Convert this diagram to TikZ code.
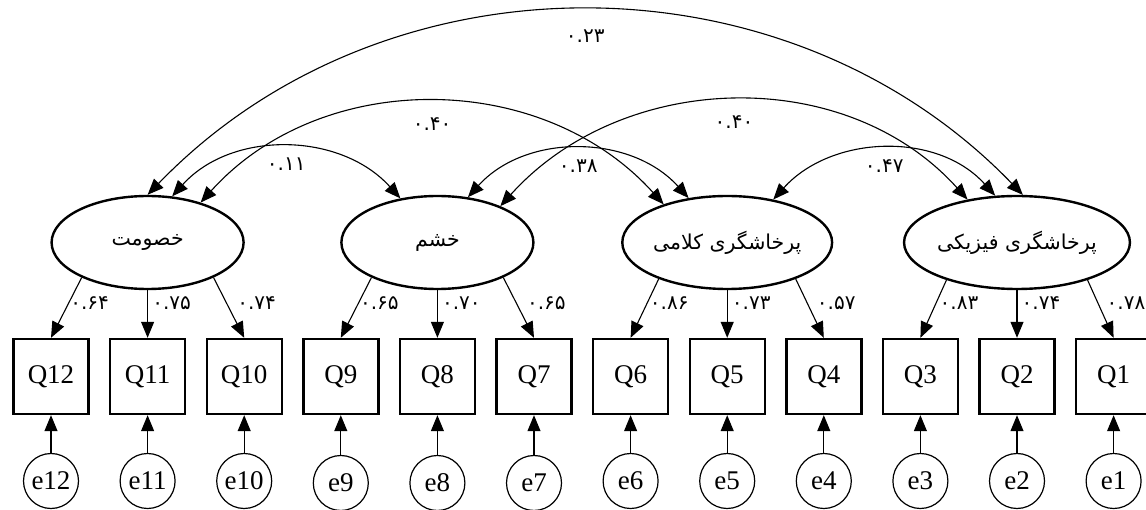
\documentclass[tikz,border=0pt]{standalone}
\usepackage{fontspec}
\setmainfont{Liberation Serif}
\newfontfamily\farsi[Script=Arabic]{DejaVu Sans}
\TeXXeTstate=1
\usetikzlibrary{arrows.meta,shapes.geometric}

\begin{document}
\begin{tikzpicture}[x=1pt,y=-1pt,
  factor/.style={ellipse,draw=black,line width=2.4pt,minimum width=192pt,minimum height=93pt,inner sep=0pt,font=\farsi\fontsize{20.5}{24}\selectfont},
  item/.style={rectangle,draw=black,line width=2.4pt,minimum width=75pt,minimum height=75pt,inner sep=0pt,font=\fontsize{27}{30}\selectfont},
  err/.style={circle,draw=black,line width=1.2pt,minimum size=55pt,inner sep=0pt,font=\fontsize{27}{30}\selectfont},
  load/.style={-{Triangle[length=16pt,width=13pt]},line width=1.1pt},
  corr/.style={{Triangle[length=16pt,width=13pt]}-{Triangle[length=16pt,width=13pt]},line width=1.1pt},
  coef/.style={font=\farsi\fontsize{20}{22}\selectfont,inner sep=1pt}]
\useasboundingbox (0,0) rectangle (1146,510);

\node[factor] (hos) at (147.6,242.5) {\beginR خصومت\endR};
\node[factor] (ang) at (437.4,242.5) {\beginR خشم\endR};
\node[factor] (verb) at (727.2,242.5) {\beginR پرخاشگری کلامی\endR};
\node[factor] (phys) at (1017,242.5) {\beginR پرخاشگری فیزیکی\endR};

\node[item] (q12) at (51,376.5) {Q12};
\node[item] (q11) at (147.6,376.5) {Q11};
\node[item] (q10) at (244.2,376.5) {Q10};
\node[item] (q9) at (340.8,376.5) {Q9};
\node[item] (q8) at (437.4,376.5) {Q8};
\node[item] (q7) at (534,376.5) {Q7};
\node[item] (q6) at (630.6,376.5) {Q6};
\node[item] (q5) at (727.2,376.5) {Q5};
\node[item] (q4) at (823.8,376.5) {Q4};
\node[item] (q3) at (920.4,376.5) {Q3};
\node[item] (q2) at (1017,376.5) {Q2};
\node[item] (q1) at (1113.6,376.5) {Q1};

\node[err] (e12) at (51,481) {e12};
\node[err] (e11) at (147.6,481) {e11};
\node[err] (e10) at (244.2,481) {e10};
\node[err] (e9) at (340.8,483) {e9};
\node[err] (e8) at (437.4,483) {e8};
\node[err] (e7) at (534,483) {e7};
\node[err] (e6) at (630.6,481) {e6};
\node[err] (e5) at (727.2,481) {e5};
\node[err] (e4) at (823.8,481) {e4};
\node[err] (e3) at (920.4,481) {e3};
\node[err] (e2) at (1017,481) {e2};
\node[err] (e1) at (1113.6,481) {e1};

\draw[load] (hos.208) -- (q12.north);
\draw[load] (hos.south) -- (q11.north);
\draw[load] (hos.332) -- (q10.north);
\draw[load] (ang.208) -- (q9.north);
\draw[load] (ang.south) -- (q8.north);
\draw[load] (ang.332) -- (q7.north);
\draw[load] (verb.208) -- (q6.north);
\draw[load] (verb.south) -- (q5.north);
\draw[load] (verb.332) -- (q4.north);
\draw[load] (phys.208) -- (q3.north);
\draw[load] (phys.south) -- (q2.north);
\draw[load] (phys.332) -- (q1.north);

\node[coef] (l12) at (89.6,303) {۰.۶۴};
\node[coef] (l11) at (171.6,303) {۰.۷۵};
\node[coef] (l10) at (256.6,303) {۰.۷۴};
\node[coef] (l9) at (379.4,303) {۰.۶۵};
\node[coef] (l8) at (461.4,303) {۰.۷۰};
\node[coef] (l7) at (546.4,303) {۰.۶۵};
\node[coef] (l6) at (669.2,303) {۰.۸۶};
\node[coef] (l5) at (751.2,303) {۰.۷۳};
\node[coef] (l4) at (836.2,303) {۰.۵۷};
\node[coef] (l3) at (959,303) {۰.۸۳};
\node[coef] (l2) at (1041,303) {۰.۷۴};
\node[coef] (l1) at (1126,303) {۰.۷۸};

\foreach \i in {1,...,12}
  \draw[load] (e\i.north) -- (q\i.south);

\draw[corr] (hos.90) to[out=46,in=134] node[coef,midway,below=18pt] (r23) {۰.۲۳} (phys.83);
\draw[corr] (hos.37) to[out=48,in=132] node[coef,midway,below=14pt] (r40a) {۰.۴۰} (verb.149);
\draw[corr] (hos.62) to[out=48,in=132] node[coef,midway,below=9pt] (r11) {۰.۱۱} (ang.130);
\draw[corr] (ang.56) to[out=48,in=132] node[coef,midway,below=9pt] (r38) {۰.۳۸} (verb.131);
\draw[corr] (ang.30) to[out=48,in=132] node[coef,midway,below=13pt] (r40b) {۰.۴۰} (phys.139);
\draw[corr] (verb.43) to[out=48,in=132] node[coef,midway,below=9pt] (r47) {۰.۴۷} (phys.115);
\end{tikzpicture}
\end{document}
